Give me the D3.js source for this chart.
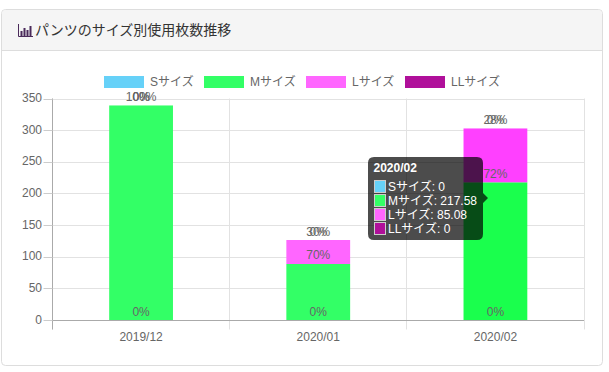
<!DOCTYPE html>
<html>
<head>
<meta charset="utf-8">
<script src="https://cdnjs.cloudflare.com/ajax/libs/d3/7.8.5/d3.min.js"></script>
<style>
  html, body { margin: 0; padding: 0; background: #fff; overflow: hidden; }
  svg { display: block; font-family: "Liberation Sans", "Noto Sans CJK JP", sans-serif; }
</style>
</head>
<body>
<div id="chart"></div>
<script>
const titleText = "パンツのサイズ別使用枚数推移";
const months = ["2019/12", "2020/01", "2020/02"];
const sizes = ["Sサイズ", "Mサイズ", "Lサイズ", "LLサイズ"];
const sValues = [0, 0, 0];
const mValues = [339, 88.5, 217.58];
const lValues = [0, 37.9, 85.08];
const llValues = [0, 0, 0];
const yTicks = [0, 50, 100, 150, 200, 250, 300, 350];
const sizeColors = ["#66d1f8", "#33ff66", "#ff66ff", "#b0109a"];
const hoverColors = ["#40c8f8", "#1aff4d", "#ff40ff", "#a00088"];
const hoveredMonth = "2020/02";

const svg = d3.select("#chart").append("svg").attr("width", 609).attr("height", 372);
const margin = {top: 98.5, right: 25, bottom: 51.5, left: 52.5};
const plotRight = 609 - margin.right, plotBottom = 372 - margin.bottom;

// card + header
svg.append("rect").attr("x", 1.5).attr("y", 9.5).attr("width", 601).attr("height", 356)
  .attr("rx", 4).attr("fill", "#fff").attr("stroke", "#ddd");
svg.append("path").attr("d", "M2,50 V14 Q2,10 6,10 H598 Q602,10 602,14 V50 Z").attr("fill", "#f5f5f5");
svg.append("line").attr("x1", 2).attr("x2", 602).attr("y1", 50.5).attr("y2", 50.5).attr("stroke", "#ddd");

// title icon (small bar chart)
const icon = svg.append("g").attr("transform", "translate(18,24)");
icon.append("path").attr("d", "M0.5,0 V12.5 H15").attr("fill", "none").attr("stroke", "#4a2a5a");
[[2.5, 7, 5], [5.5, 4, 8], [8.5, 6, 6], [11.5, 2, 10]].forEach(b => {
  icon.append("rect").attr("x", b[0]).attr("y", b[1]).attr("width", 2).attr("height", b[2]).attr("fill", "#4a2a5a");
});
svg.append("text").attr("x", 35).attr("y", 35).attr("font-size", 14).attr("fill", "#333").text(titleText);

const x = d3.scaleBand().domain(months).range([margin.left, plotRight]);
const y = d3.scaleLinear().domain([0, 350]).range([plotBottom - 0.5, margin.top]);

// grid
svg.append("g").selectAll("line").data(yTicks).join("line")
  .attr("x1", margin.left).attr("x2", plotRight)
  .attr("y1", d => Math.round(y(d)) + 0.5).attr("y2", d => Math.round(y(d)) + 0.5)
  .attr("stroke", "#e2e2e2");
const xEdges = months.map(m => x(m)).concat(plotRight);
svg.append("g").selectAll("line").data(xEdges).join("line")
  .attr("x1", d => Math.round(d - 0.5) + 0.5).attr("x2", d => Math.round(d - 0.5) + 0.5)
  .attr("y1", margin.top).attr("y2", plotBottom + 9)
  .attr("stroke", "#e2e2e2");

// stacked bars
const table = months.map((m, i) => ({
  month: m,
  [sizes[0]]: sValues[i], [sizes[1]]: mValues[i], [sizes[2]]: lValues[i], [sizes[3]]: llValues[i]
}));
const stacked = d3.stack().keys(sizes)(table);
const barWidth = x.bandwidth() * 0.36;

stacked.forEach((layer, k) => {
  svg.append("g").selectAll("rect").data(layer).join("rect")
    .attr("x", d => x(d.data.month) + (x.bandwidth() - barWidth) / 2)
    .attr("width", barWidth)
    .attr("y", d => y(d[1]))
    .attr("height", d => y(d[0]) - y(d[1]))
    .attr("fill", d => d.data.month === hoveredMonth ? hoverColors[k] : sizeColors[k]);
});

// axes
svg.append("line").attr("x1", margin.left).attr("x2", margin.left).attr("y1", margin.top).attr("y2", plotBottom + 9).attr("stroke", "#aaa");
svg.append("line").attr("x1", margin.left).attr("x2", plotRight).attr("y1", plotBottom).attr("y2", plotBottom).attr("stroke", "#aaa");
svg.append("g").selectAll("line").data(yTicks).join("line")
  .attr("x1", margin.left - 9).attr("x2", margin.left)
  .attr("y1", d => Math.round(y(d)) + 0.5).attr("y2", d => Math.round(y(d)) + 0.5)
  .attr("stroke", "#ccc");
svg.append("g").selectAll("text").data(yTicks).join("text")
  .attr("x", 42).attr("y", d => y(d) + 3.5)
  .attr("text-anchor", "end").attr("font-size", 12).attr("fill", "#666")
  .text(d => d);
svg.append("g").selectAll("text").data(months).join("text")
  .attr("x", d => x(d) + x.bandwidth() / 2).attr("y", 341)
  .attr("text-anchor", "middle").attr("font-size", 12).attr("fill", "#666")
  .text(d => d);

// percent labels, sit just above the top of each stack segment
stacked.forEach(layer => {
  svg.append("g").selectAll("text").data(layer).join("text")
    .attr("x", d => x(d.data.month) + x.bandwidth() / 2)
    .attr("y", d => y(d[1]) - 4.5)
    .attr("text-anchor", "middle").attr("font-size", 12).attr("fill", "#666")
    .text(d => {
      const total = d3.sum(sizes, s => d.data[s]);
      return Math.round(d.data[layer.key] / total * 100) + "%";
    });
});

// legend
const legendBoxX = [104, 204, 306, 405];
const legend = svg.append("g").selectAll("g").data(sizes).join("g");
legend.append("rect").attr("x", (d, i) => legendBoxX[i]).attr("y", 76).attr("width", 40).attr("height", 12)
  .attr("fill", (d, i) => sizeColors[i]);
legend.append("text").attr("x", (d, i) => legendBoxX[i] + 46).attr("y", 86)
  .attr("font-size", 12).attr("fill", "#666").text(d => d);

// tooltip for hovered month
const hi = months.indexOf(hoveredMonth);
const tipValues = [sValues[hi], mValues[hi], lValues[hi], llValues[hi]];
const tip = svg.append("g");
tip.append("path")
  .attr("d", "M374,157 H477 Q483,157 483,163 V193 L488,198 L483,203 V234 Q483,240 477,240 H374 Q368,240 368,234 V163 Q368,157 374,157 Z")
  .attr("fill", "#000").attr("fill-opacity", 0.7);
tip.append("text").attr("x", 373.5).attr("y", 172).attr("font-size", 12).attr("font-weight", "bold").attr("fill", "#fff").text(hoveredMonth);
const rows = tip.selectAll("g").data(sizes).join("g").attr("transform", (d, i) => `translate(374,${180 + i * 14})`);
rows.append("rect").attr("x", 0.5).attr("y", 0.5).attr("width", 11).attr("height", 12)
  .attr("fill", (d, i) => sizeColors[i]).attr("stroke", "#ccc");
rows.append("text").attr("x", 14).attr("y", 11).attr("font-size", 12).attr("fill", "#fff")
  .text((d, i) => d + ": " + tipValues[i]);
</script>
</body>
</html>
